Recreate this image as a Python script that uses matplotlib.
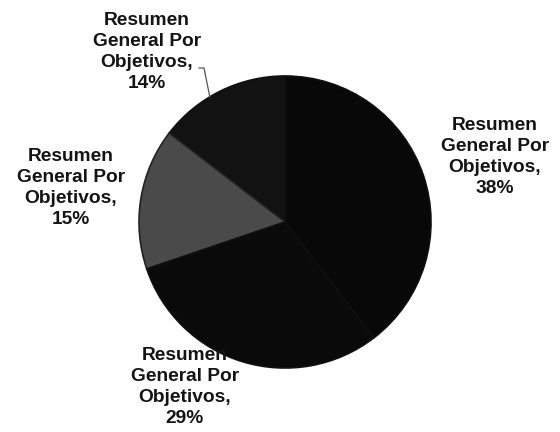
import numpy as np
import matplotlib.pyplot as plt

plt.rcParams['font.family'] = ['Liberation Sans', 'DejaVu Sans']

# porcentajes por objetivo (en orden antihorario desde las 12)
porcentajes = [14, 15, 29, 38]
nombre = "Resumen\nGeneral Por\nObjetivos,"
colores = ["#121212", "#4a4a4a", "#0a0a0a", "#080808"]

# posiciones de las etiquetas (en pixeles, origen abajo a la izquierda)
pos_etiquetas = [(147, 380), (71, 244), (185, 45), (495, 275)]

centro = (285, 210)
radio = 146


def main():
    fig = plt.figure(figsize=(5.6, 4.32), dpi=100)
    ax = fig.add_axes([0, 0, 1, 1])

    wedges, _ = ax.pie(porcentajes, colors=colores, startangle=90,
                       counterclock=True, center=centro, radius=radio,
                       wedgeprops=dict(edgecolor="#101010", linewidth=1.2),
                       frame=True)
    # borde del sector gris un poco mas marcado
    wedges[1].set_edgecolor("#222222")
    ax.set_xlim(0, 560)
    ax.set_ylim(0, 432)
    ax.set_aspect("equal")
    ax.axis("off")

    for p, (x, y) in zip(porcentajes, pos_etiquetas):
        ax.text(x, y, f"{nombre}\n{p}%", ha="center", va="center",
                fontsize=13.8, fontweight="bold", color="#141414",
                linespacing=1.32)

    # linea guia de la etiqueta del 14%
    ang = np.radians(121)
    xe = centro[0] + radio * np.cos(ang)
    ye = centro[1] + radio * np.sin(ang)
    ax.plot([199, 204, xe], [364, 364, ye], color="#555555", lw=0.9)

    fig.savefig("out.png", dpi=100)


if __name__ == "__main__":
    main()
